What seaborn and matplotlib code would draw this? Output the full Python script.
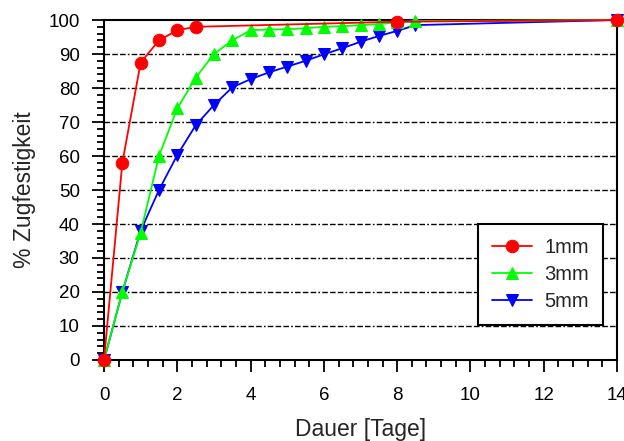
import numpy as np
import pandas as pd
import seaborn as sns
from matplotlib import pyplot as plt
from matplotlib.ticker import MultipleLocator

# Zugfestigkeit over time, per sample thickness
days_1mm = [0, 0.5, 1.0, 1.5, 2.0, 2.5, 8.0, 14.0]
pct_1mm = [0, 58, 87.5, 94, 97, 98, 99.5, 100]

days_3mm = [0, 0.5, 1.0, 1.5, 2.0, 2.5, 3.0, 3.5, 4.0, 4.5, 5.0, 5.5,
            6.0, 6.5, 7.0, 7.5, 8.0, 8.5, 14.0]
pct_3mm = [0, 20, 37.5, 60, 74, 83, 90, 94, 97, 97.2, 97.3, 97.6,
           98, 98.2, 98.5, 98.8, 99.3, 99.7, 100]

days_5mm = [0, 0.5, 1.0, 1.5, 2.0, 2.5, 3.0, 3.5, 4.0, 4.5, 5.0, 5.5,
            6.0, 6.5, 7.0, 7.5, 8.0, 8.5, 14.0]
pct_5mm = [0, 20, 38, 50, 60.3, 69, 75, 80.2, 82.6, 84.6, 86.3, 88,
           89.9, 91.7, 93.6, 95.3, 96.8, 98.5, 100]

series = [
    ("1mm", days_1mm, pct_1mm, "#ff0000", "o", 9),
    ("3mm", days_3mm, pct_3mm, "#00ff00", "^", 8),
    ("5mm", days_5mm, pct_5mm, "#0000ff", "v", 8),
]

sns.set_style("ticks")
plt.rcParams["font.family"] = ["Liberation Sans", "DejaVu Sans"]

fig = plt.figure(figsize=(6.24, 4.41), dpi=100)
ax = fig.add_axes([0.1667, 0.1837, 0.8221, 0.7709])

# draw 5mm first so red ends up on top
for i, (name, x, y, col, mk, ms) in enumerate(reversed(series)):
    df = pd.DataFrame({"Dauer": x, "Zug": y})
    sns.lineplot(
        data=df, x="Dauer", y="Zug", ax=ax,
        color=col, marker=mk, markersize=ms, markeredgecolor=col,
        linewidth=1.3, label=name, sort=False, errorbar=None,
        clip_on=False, zorder=3 + i,
    )

ax.set_xlim(0, 14)
ax.set_ylim(0, 100)
ax.xaxis.set_major_locator(MultipleLocator(2))
ax.xaxis.set_minor_locator(MultipleLocator(0.4))
ax.yaxis.set_major_locator(MultipleLocator(10))
ax.yaxis.set_minor_locator(MultipleLocator(2))

for yv in range(10, 100, 10):
    ax.axhline(yv, color="black", linewidth=1.0,
               linestyle=(0, (4, 1.6, 4, 1.6, 4, 1.6, 1.2, 1.6)), zorder=1)

for s in ax.spines.values():
    s.set_visible(True)
    s.set_linewidth(1.5)
    s.set_color("black")

ax.tick_params(which="major", direction="out", length=8.5, width=1.3,
               labelsize=13.5, colors="black")
ax.tick_params(axis="y", which="major", pad=9)
ax.tick_params(axis="x", which="major", pad=11)
ax.tick_params(which="minor", direction="out", length=5, width=1.3, colors="black")

ax.set_xlabel("Dauer [Tage]", fontsize=16.5, labelpad=10)
ax.set_ylabel("% Zugfestigkeit", fontsize=16.5, labelpad=9)

handles, labels = ax.get_legend_handles_labels()
order = [labels.index(n) for n in ["1mm", "3mm", "5mm"]]
leg = ax.legend(
    [handles[k] for k in order], [labels[k] for k in order],
    loc="lower right", bbox_to_anchor=(0.973, 0.103), borderaxespad=0,
    fontsize=14.5, frameon=True, fancybox=False, edgecolor="black",
    framealpha=1, handlelength=2.0, handletextpad=0.6, borderpad=0.7,
    labelspacing=0.4,
)
leg.get_frame().set_linewidth(1.5)

fig.savefig("out.png", dpi=100)
